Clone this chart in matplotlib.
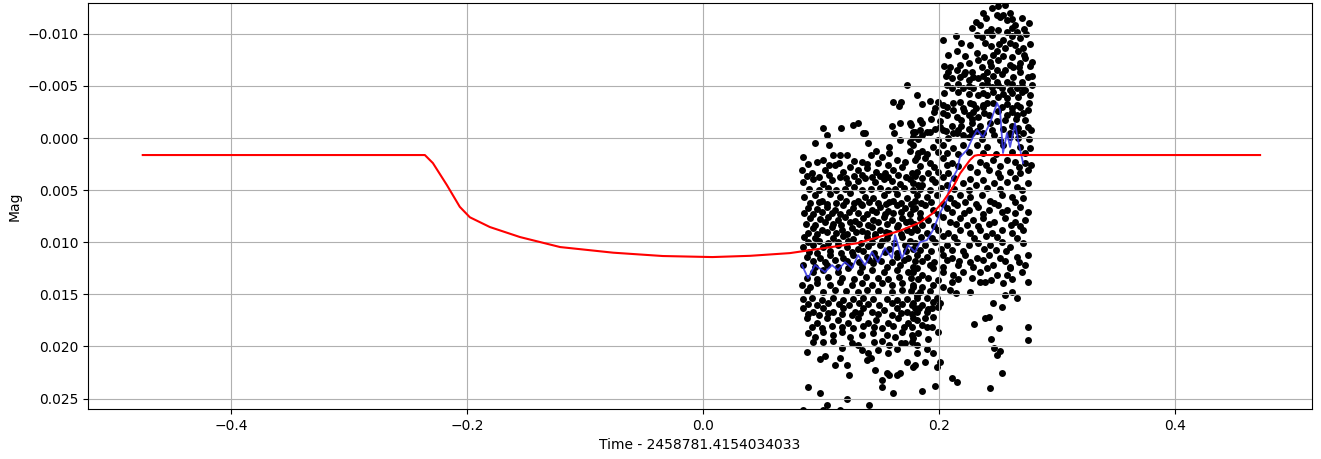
import matplotlib
matplotlib.use("Agg")
import matplotlib.pyplot as plt

# ---- photometry points (time offset, magnitude) ----
obs_time = [
    0.173, 0.181, 0.161, 0.168, 0.166, 0.102, 0.105, 0.117, 0.127, 0.131, 0.136, 0.160, 0.167, 0.176, 0.162, 0.178,
    0.203, 0.214, 0.219, 0.208, 0.215, 0.232, 0.233, 0.237, 0.245, 0.250,
    0.256, 0.249, 0.254, 0.260, 0.258, 0.231, 0.235, 0.276, 0.264, 0.241,
    0.250, 0.258, 0.266, 0.236, 0.239, 0.254, 0.260, 0.269, 0.256, 0.267,
    0.271, 0.249, 0.273, 0.279, 0.269, 0.243, 0.250, 0.249, 0.256, 0.263,
    0.209, 0.225, 0.228, 0.222, 0.208, 0.215, 0.211, 0.218, 0.225, 0.233,
    0.241, 0.249, 0.258, 0.246, 0.241, 0.269, 0.275, 0.270, 0.211, 0.220,
    0.229, 0.236, 0.245, 0.253, 0.260, 0.266, 0.273, 0.277, 0.233, 0.241,
    0.250, 0.258, 0.267, 0.192, 0.199, 0.197, 0.207, 0.218, 0.226, 0.220,
    0.212, 0.231, 0.237, 0.246, 0.253, 0.262, 0.269, 0.275, 0.207, 0.215,
    0.225, 0.233, 0.242, 0.258, 0.266, 0.273, 0.175, 0.186, 0.201, 0.211,
    0.219, 0.228, 0.235, 0.243, 0.262, 0.267, 0.275, 0.180, 0.190, 0.212,
    0.220, 0.228, 0.237, 0.260, 0.271,
    0.137, 0.095, 0.107, 0.140, 0.147, 0.158, 0.167, 0.175, 0.085,
    0.102, 0.110, 0.116, 0.122, 0.135, 0.142, 0.152, 0.158, 0.164, 0.175, 0.181, 0.084,
    0.092, 0.103, 0.112, 0.119, 0.125, 0.131, 0.139, 0.147, 0.154, 0.161, 0.169, 0.177,
    0.085, 0.093, 0.102, 0.109, 0.116, 0.123, 0.131, 0.137, 0.146, 0.153, 0.160, 0.167, 0.175, 0.182,
    0.086, 0.095, 0.101, 0.108, 0.116, 0.125, 0.131, 0.137, 0.144, 0.153, 0.158, 0.164, 0.173, 0.180,
    0.089, 0.097, 0.105, 0.112, 0.119, 0.127, 0.135, 0.143, 0.150, 0.157, 0.164, 0.171, 0.178,
    0.091, 0.099, 0.106, 0.114, 0.120, 0.129, 0.136, 0.144, 0.153, 0.160, 0.169, 0.175,
    0.093, 0.101, 0.109, 0.118, 0.126, 0.135, 0.143, 0.150, 0.164, 0.173, 0.180,
    0.086, 0.095, 0.110, 0.119, 0.127, 0.139, 0.146, 0.156, 0.169,
    0.085, 0.093, 0.102, 0.114, 0.122, 0.131, 0.140, 0.150, 0.158, 0.171, 0.178,
    0.088, 0.099, 0.108, 0.119, 0.127, 0.139, 0.147, 0.164, 0.174,
    0.085, 0.095, 0.105, 0.114, 0.125, 0.135, 0.144, 0.156, 0.167, 0.178,
    0.178, 0.186, 0.192, 0.203, 0.215, 0.225, 0.247, 0.260,
    0.178, 0.186, 0.195, 0.203, 0.212, 0.220, 0.232, 0.241, 0.254, 0.269, 0.277,
    0.180, 0.188, 0.192, 0.203, 0.211, 0.235, 0.246, 0.258, 0.264, 0.273,
    0.181, 0.191, 0.199, 0.208, 0.232, 0.242, 0.250, 0.260, 0.269, 0.275,
    0.178, 0.186, 0.197, 0.207, 0.220, 0.231, 0.237, 0.247, 0.258, 0.266, 0.275,
    0.181, 0.190, 0.198, 0.209, 0.218, 0.226, 0.236, 0.243, 0.253, 0.262, 0.271,
    0.180, 0.188, 0.195, 0.207, 0.215, 0.225, 0.233, 0.242, 0.250, 0.258, 0.269, 0.275,
    0.184, 0.191, 0.203, 0.209, 0.218, 0.229, 0.237, 0.247, 0.256, 0.264, 0.273,
    0.181, 0.190, 0.199, 0.208, 0.218, 0.226, 0.235, 0.245, 0.253, 0.262, 0.271,
    0.180, 0.188, 0.197, 0.207, 0.215, 0.225, 0.233, 0.243, 0.253, 0.260, 0.271,
    0.181, 0.190, 0.203, 0.211, 0.222, 0.232, 0.242, 0.252, 0.266, 0.275,
    0.192, 0.203, 0.216, 0.229, 0.246, 0.260, 0.273,
    0.093, 0.102, 0.114, 0.123, 0.133, 0.143, 0.153, 0.164, 0.174, 0.181,
    0.084, 0.091, 0.097, 0.108, 0.116, 0.126, 0.135, 0.143, 0.152, 0.160, 0.169, 0.178,
    0.085, 0.092, 0.101, 0.110, 0.119, 0.127, 0.136, 0.144, 0.156, 0.164, 0.173, 0.181,
    0.085, 0.093, 0.102, 0.110, 0.119, 0.129, 0.136, 0.143, 0.153, 0.164, 0.173, 0.180,
    0.088, 0.097, 0.105, 0.114, 0.123, 0.131, 0.140, 0.147, 0.157, 0.165, 0.174, 0.181,
    0.089, 0.095, 0.102, 0.110, 0.118, 0.125, 0.135, 0.144, 0.156, 0.163, 0.169, 0.177,
    0.102, 0.118, 0.131, 0.135, 0.140, 0.148, 0.158, 0.164, 0.171,
    0.088, 0.099, 0.103, 0.112, 0.116, 0.139, 0.142, 0.157, 0.173, 0.180, 0.122, 0.124,
    0.146, 0.156, 0.158, 0.164, 0.167, 0.152, 0.152, 0.089, 0.099, 0.122, 0.105, 0.141, 0.161, 0.085,
    0.102, 0.116,
    0.178, 0.186, 0.195, 0.203, 0.212, 0.220, 0.235, 0.241, 0.249, 0.258, 0.260, 0.270, 0.275,
    0.211, 0.203, 0.209, 0.235, 0.239, 0.254, 0.178, 0.186, 0.195,
    0.181, 0.190, 0.198, 0.201, 0.262, 0.256, 0.266, 0.246, 0.253,
    0.178, 0.186, 0.195, 0.181, 0.190, 0.194, 0.178, 0.188, 0.195, 0.242, 0.239,
    0.177, 0.186, 0.190, 0.194, 0.230, 0.251, 0.275, 0.178, 0.191, 0.244, 0.275,
    0.181, 0.190, 0.247, 0.252, 0.249, 0.195, 0.181, 0.188, 0.201, 0.198, 0.178, 0.253,
    0.211, 0.215, 0.186, 0.197, 0.243,
]

obs_mag = [
    -0.0051, -0.0041, -0.0035, -0.0035, -0.0031, -0.0010, -0.0003, -0.0010, -0.0013, -0.0014, -0.0005, -0.0012, -0.0014, -0.0013, -0.0005, -0.0001,
    -0.0094, -0.0098, -0.0091, -0.0080, -0.0084, -0.0082, -0.0075, -0.0120, -0.0125, -0.0127,
    -0.0128, -0.0118, -0.0118, -0.0120, -0.0113, -0.0111, -0.0108, -0.0110, -0.0108, -0.0102,
    -0.0104, -0.0102, -0.0102, -0.0097, -0.0091, -0.0094, -0.0091, -0.0096, -0.0086, -0.0084,
    -0.0086, -0.0084, -0.0077, -0.0073, -0.0072, -0.0073, -0.0075, -0.0065, -0.0065, -0.0068,
    -0.0068, -0.0072, -0.0063, -0.0063, -0.0063, -0.0065, -0.0058, -0.0059, -0.0056, -0.0058,
    -0.0056, -0.0054, -0.0054, -0.0060, -0.0063, -0.0063, -0.0059, -0.0054, -0.0048, -0.0048,
    -0.0048, -0.0051, -0.0049, -0.0048, -0.0046, -0.0048, -0.0046, -0.0041, -0.0041, -0.0041,
    -0.0039, -0.0038, -0.0039, -0.0036, -0.0035, -0.0029, -0.0030, -0.0035, -0.0034, -0.0029,
    -0.0027, -0.0029, -0.0030, -0.0034, -0.0030, -0.0029, -0.0030, -0.0027, -0.0022, -0.0020,
    -0.0022, -0.0020, -0.0022, -0.0022, -0.0022, -0.0017, -0.0014, -0.0014, -0.0011, -0.0012,
    -0.0012, -0.0014, -0.0012, -0.0014, -0.0012, -0.0010, -0.0011, -0.0006, -0.0006, -0.0005,
    -0.0003, -0.0005, -0.0005, -0.0005, -0.0005,
    -0.0005, 0.0005, 0.0007, 0.0005, 0.0012, 0.0009, 0.0002, 0.0004, 0.0018,
    0.0021, 0.0016, 0.0016, 0.0016, 0.0023, 0.0016, 0.0018, 0.0014, 0.0021, 0.0012, 0.0018, 0.0031,
    0.0034, 0.0031, 0.0026, 0.0033, 0.0028, 0.0031, 0.0029, 0.0033, 0.0034, 0.0031, 0.0028, 0.0034,
    0.0042, 0.0039, 0.0044, 0.0040, 0.0037, 0.0043, 0.0041, 0.0038, 0.0042, 0.0039, 0.0041, 0.0044, 0.0039, 0.0045,
    0.0057, 0.0055, 0.0060, 0.0054, 0.0057, 0.0053, 0.0060, 0.0057, 0.0058, 0.0055, 0.0061, 0.0054, 0.0058, 0.0060,
    0.0067, 0.0068, 0.0066, 0.0069, 0.0064, 0.0067, 0.0064, 0.0069, 0.0066, 0.0070, 0.0064, 0.0067, 0.0068,
    0.0077, 0.0078, 0.0076, 0.0079, 0.0076, 0.0080, 0.0077, 0.0079, 0.0076, 0.0079, 0.0077, 0.0080,
    0.0086, 0.0088, 0.0085, 0.0088, 0.0086, 0.0089, 0.0085, 0.0088, 0.0085, 0.0088, 0.0086,
    0.0095, 0.0096, 0.0096, 0.0094, 0.0097, 0.0095, 0.0094, 0.0096, 0.0095,
    0.0105, 0.0103, 0.0105, 0.0103, 0.0105, 0.0106, 0.0104, 0.0103, 0.0106, 0.0103, 0.0106,
    0.0114, 0.0115, 0.0112, 0.0115, 0.0112, 0.0114, 0.0115, 0.0114, 0.0115,
    0.0122, 0.0124, 0.0122, 0.0124, 0.0122, 0.0124, 0.0120, 0.0124, 0.0122, 0.0124,
    -0.0006, -0.0003, -0.0006, -0.0008, -0.0005, -0.0001, -0.0003, -0.0001,
    0.0007, 0.0012, 0.0009, 0.0007, 0.0010, 0.0007, 0.0007, 0.0009, 0.0007, 0.0009, 0.0010,
    0.0021, 0.0019, 0.0024, 0.0019, 0.0024, 0.0023, 0.0021, 0.0021, 0.0023, 0.0024,
    0.0033, 0.0034, 0.0033, 0.0034, 0.0033, 0.0031, 0.0034, 0.0033, 0.0034, 0.0031,
    0.0043, 0.0045, 0.0042, 0.0045, 0.0043, 0.0045, 0.0040, 0.0043, 0.0042, 0.0047, 0.0043,
    0.0055, 0.0057, 0.0055, 0.0058, 0.0055, 0.0057, 0.0055, 0.0060, 0.0055, 0.0057, 0.0058,
    0.0067, 0.0064, 0.0069, 0.0067, 0.0064, 0.0069, 0.0066, 0.0069, 0.0064, 0.0069, 0.0066, 0.0071,
    0.0077, 0.0079, 0.0076, 0.0081, 0.0077, 0.0079, 0.0077, 0.0081, 0.0077, 0.0081, 0.0079,
    0.0088, 0.0091, 0.0088, 0.0091, 0.0088, 0.0091, 0.0088, 0.0091, 0.0088, 0.0091, 0.0088,
    0.0101, 0.0103, 0.0100, 0.0103, 0.0100, 0.0103, 0.0101, 0.0103, 0.0100, 0.0105, 0.0101,
    0.0112, 0.0114, 0.0112, 0.0115, 0.0112, 0.0115, 0.0112, 0.0115, 0.0114, 0.0112,
    0.0122, 0.0124, 0.0122, 0.0124, 0.0122, 0.0124, 0.0122,
    0.0129, 0.0127, 0.0129, 0.0125, 0.0129, 0.0127, 0.0129, 0.0127, 0.0129, 0.0125,
    0.0141, 0.0143, 0.0139, 0.0141, 0.0138, 0.0141, 0.0139, 0.0141, 0.0139, 0.0141, 0.0139, 0.0143,
    0.0154, 0.0153, 0.0155, 0.0153, 0.0155, 0.0154, 0.0153, 0.0154, 0.0154, 0.0155, 0.0154, 0.0153,
    0.0163, 0.0167, 0.0163, 0.0167, 0.0163, 0.0167, 0.0163, 0.0167, 0.0165, 0.0163, 0.0167, 0.0163,
    0.0173, 0.0177, 0.0173, 0.0175, 0.0177, 0.0173, 0.0177, 0.0175, 0.0177, 0.0173, 0.0177, 0.0175,
    0.0187, 0.0191, 0.0186, 0.0189, 0.0186, 0.0191, 0.0189, 0.0187, 0.0189, 0.0191, 0.0186, 0.0189,
    0.0196, 0.0201, 0.0199, 0.0203, 0.0206, 0.0203, 0.0199, 0.0202, 0.0197,
    0.0205, 0.0212, 0.0209, 0.0218, 0.0211, 0.0213, 0.0211, 0.0206, 0.0215, 0.0218, 0.0218, 0.0227,
    0.0223, 0.0225, 0.0227, 0.0227, 0.0225, 0.0232, 0.0239, 0.0239, 0.0245, 0.0250, 0.0256, 0.0256, 0.0245, 0.0261,
    0.0261, 0.0261,
    0.0129, 0.0131, 0.0125, 0.0129, 0.0131, 0.0129, 0.0129, 0.0125, 0.0131, 0.0131, 0.0125, 0.0129, 0.0138,
    0.0138, 0.0143, 0.0146, 0.0138, 0.0138, 0.0139, 0.0141, 0.0143, 0.0141,
    0.0151, 0.0153, 0.0153, 0.0158, 0.0148, 0.0151, 0.0153, 0.0158, 0.0162,
    0.0158, 0.0160, 0.0157, 0.0167, 0.0167, 0.0163, 0.0173, 0.0173, 0.0172, 0.0172, 0.0173,
    0.0181, 0.0179, 0.0181, 0.0181, 0.0178, 0.0182, 0.0181, 0.0192, 0.0193, 0.0193, 0.0194,
    0.0199, 0.0202, 0.0201, 0.0204, 0.0208, 0.0206, 0.0206, 0.0215, 0.0215, 0.0220, 0.0220, 0.0225,
    0.0230, 0.0234, 0.0243, 0.0238, 0.0240,
]

# ---- further photometry points in the densest parts of the cloud ----
dense_time = [
    0.089, 0.097, 0.107, 0.115, 0.128, 0.139, 0.148, 0.157, 0.171,
    0.088, 0.098, 0.107, 0.121, 0.128, 0.135, 0.143, 0.150, 0.157, 0.165, 0.172, 0.180,
    0.090, 0.098, 0.106, 0.113, 0.120, 0.128, 0.135, 0.142, 0.150, 0.157, 0.163, 0.170, 0.178,
    0.091, 0.098, 0.105, 0.113, 0.121, 0.128, 0.134, 0.141, 0.148, 0.155, 0.161, 0.168, 0.176,
    0.086, 0.093, 0.101, 0.109, 0.116, 0.124, 0.131, 0.139, 0.147, 0.154, 0.161, 0.168, 0.175,
    0.087, 0.095, 0.103, 0.110, 0.117, 0.125, 0.132, 0.140, 0.148, 0.156, 0.165, 0.172, 0.179,
    0.089, 0.097, 0.105, 0.113, 0.122, 0.130, 0.139, 0.146, 0.155, 0.158, 0.168, 0.176,
    0.089, 0.098, 0.106, 0.114, 0.123, 0.134, 0.143, 0.152, 0.162, 0.175,
    0.090, 0.097, 0.108, 0.117, 0.126, 0.136, 0.145, 0.154, 0.164, 0.172,
    0.093, 0.103, 0.112, 0.122, 0.132, 0.141, 0.151, 0.160, 0.170, 0.180,
    0.088, 0.097, 0.106, 0.118, 0.128, 0.138, 0.148, 0.157, 0.166, 0.176,
    0.088, 0.102, 0.112, 0.121, 0.131, 0.139, 0.148, 0.160, 0.169, 0.176,
    0.089, 0.097, 0.106, 0.115, 0.124, 0.132, 0.140, 0.149, 0.160, 0.169, 0.177,
    0.089, 0.098, 0.106, 0.118, 0.126, 0.133, 0.148, 0.160, 0.168, 0.177,
    0.092, 0.101, 0.109, 0.118, 0.127, 0.136, 0.145, 0.152, 0.161, 0.170,
    0.093, 0.110, 0.126, 0.145, 0.152, 0.168, 0.177,
    0.240, 0.252, 0.262, 0.270,
    0.228, 0.244, 0.262, 0.272,
    0.232, 0.245, 0.262, 0.274,
    0.226, 0.244, 0.251, 0.264, 0.277,
    0.222, 0.238, 0.246, 0.254, 0.262, 0.272,
    0.204, 0.218, 0.236, 0.244, 0.260, 0.268, 0.277,
    0.206, 0.221, 0.229, 0.237, 0.253, 0.263, 0.279,
    0.207, 0.216, 0.225, 0.241, 0.250, 0.262, 0.270, 0.279,
    0.204, 0.216, 0.225, 0.237, 0.246, 0.254, 0.262, 0.270,
    0.186, 0.203, 0.212, 0.229, 0.237, 0.241, 0.258, 0.266, 0.276,
    0.196, 0.203, 0.221, 0.229, 0.238, 0.250, 0.262, 0.271,
    0.184, 0.193, 0.201, 0.219, 0.228, 0.249, 0.256, 0.265,
    0.184, 0.197, 0.206, 0.216, 0.225, 0.232, 0.245, 0.254, 0.266, 0.278,
    0.182, 0.199, 0.208, 0.236, 0.252, 0.267, 0.276,
    0.182, 0.190, 0.199, 0.207, 0.216, 0.225, 0.237, 0.248, 0.262, 0.273,
    0.184, 0.196, 0.207, 0.216, 0.226, 0.240, 0.252, 0.268, 0.278,
    0.186, 0.194, 0.203, 0.213, 0.226, 0.252, 0.264,
    0.184, 0.192, 0.202, 0.213, 0.225, 0.241, 0.252, 0.270,
    0.185, 0.193, 0.203, 0.213, 0.222, 0.231, 0.247, 0.264,
    0.184, 0.199, 0.211, 0.221, 0.237, 0.253, 0.264,
    0.186, 0.196, 0.214, 0.224, 0.233, 0.242, 0.261, 0.269,
    0.185, 0.194, 0.203, 0.213, 0.230, 0.240, 0.249, 0.266,
    0.184, 0.193, 0.202, 0.211, 0.220, 0.238, 0.248, 0.257,
    0.186, 0.196, 0.207, 0.217, 0.226, 0.237, 0.256, 0.268,
    0.182, 0.191, 0.199, 0.216, 0.228, 0.244, 0.262,
    0.184, 0.192, 0.214, 0.226,
    0.183, 0.191, 0.199,
    0.182, 0.199,
]

dense_mag = [
    0.0025, 0.0023, 0.0026, 0.0024, 0.0022, 0.0025, 0.0024, 0.0026, 0.0023,
    0.0036, 0.0037, 0.0035, 0.0038, 0.0036, 0.0035, 0.0037, 0.0036, 0.0037, 0.0035, 0.0037, 0.0036,
    0.0049, 0.0050, 0.0048, 0.0050, 0.0049, 0.0047, 0.0050, 0.0049, 0.0048, 0.0050, 0.0049, 0.0048, 0.0050,
    0.0062, 0.0061, 0.0063, 0.0062, 0.0060, 0.0062, 0.0063, 0.0061, 0.0062, 0.0063, 0.0060, 0.0062, 0.0063,
    0.0072, 0.0073, 0.0071, 0.0072, 0.0073, 0.0071, 0.0072, 0.0073, 0.0071, 0.0073, 0.0072, 0.0071, 0.0073,
    0.0082, 0.0083, 0.0081, 0.0082, 0.0083, 0.0081, 0.0082, 0.0083, 0.0081, 0.0082, 0.0083, 0.0081, 0.0082,
    0.0091, 0.0092, 0.0090, 0.0091, 0.0092, 0.0090, 0.0091, 0.0092, 0.0090, 0.0091, 0.0092, 0.0090,
    0.0100, 0.0099, 0.0101, 0.0100, 0.0099, 0.0101, 0.0100, 0.0099, 0.0101, 0.0099,
    0.0109, 0.0110, 0.0108, 0.0110, 0.0109, 0.0108, 0.0110, 0.0109, 0.0110, 0.0108,
    0.0118, 0.0119, 0.0117, 0.0118, 0.0119, 0.0117, 0.0118, 0.0119, 0.0117, 0.0118,
    0.0134, 0.0135, 0.0133, 0.0134, 0.0135, 0.0133, 0.0134, 0.0135, 0.0133, 0.0134,
    0.0147, 0.0148, 0.0146, 0.0147, 0.0148, 0.0146, 0.0147, 0.0148, 0.0146, 0.0147,
    0.0159, 0.0160, 0.0158, 0.0159, 0.0160, 0.0158, 0.0159, 0.0160, 0.0158, 0.0159, 0.0160,
    0.0169, 0.0170, 0.0168, 0.0169, 0.0170, 0.0168, 0.0169, 0.0170, 0.0168, 0.0169,
    0.0181, 0.0182, 0.0180, 0.0181, 0.0182, 0.0180, 0.0181, 0.0182, 0.0180, 0.0181,
    0.0196, 0.0195, 0.0197, 0.0196, 0.0195, 0.0197, 0.0196,
    -0.0115, -0.0116, -0.0114, -0.0115,
    -0.0106, -0.0105, -0.0106, -0.0105,
    -0.0099, -0.0099, -0.0098, -0.0100,
    -0.0089, -0.0088, -0.0090, -0.0089, -0.0090,
    -0.0079, -0.0078, -0.0080, -0.0079, -0.0078, -0.0080,
    -0.0069, -0.0070, -0.0068, -0.0069, -0.0070, -0.0068, -0.0069,
    -0.0060, -0.0061, -0.0059, -0.0060, -0.0061, -0.0059, -0.0060,
    -0.0051, -0.0052, -0.0050, -0.0052, -0.0051, -0.0052, -0.0050, -0.0051,
    -0.0043, -0.0044, -0.0042, -0.0043, -0.0044, -0.0042, -0.0043, -0.0044,
    -0.0033, -0.0032, -0.0034, -0.0033, -0.0032, -0.0034, -0.0033, -0.0032, -0.0034,
    -0.0025, -0.0024, -0.0026, -0.0025, -0.0024, -0.0026, -0.0025, -0.0024,
    -0.0017, -0.0018, -0.0016, -0.0017, -0.0018, -0.0016, -0.0017, -0.0018,
    -0.0008, -0.0009, -0.0007, -0.0008, -0.0009, -0.0007, -0.0008, -0.0009, -0.0007, -0.0008,
    0.0001, 0.0002, 0.0000, 0.0001, 0.0002, 0.0000, 0.0001,
    0.0014, 0.0015, 0.0013, 0.0014, 0.0015, 0.0013, 0.0014, 0.0015, 0.0013, 0.0014,
    0.0027, 0.0028, 0.0026, 0.0027, 0.0028, 0.0026, 0.0027, 0.0028, 0.0026,
    0.0038, 0.0039, 0.0037, 0.0038, 0.0039, 0.0037, 0.0038,
    0.0049, 0.0050, 0.0048, 0.0049, 0.0050, 0.0048, 0.0049, 0.0050,
    0.0062, 0.0061, 0.0063, 0.0062, 0.0061, 0.0063, 0.0062, 0.0061,
    0.0072, 0.0073, 0.0071, 0.0072, 0.0073, 0.0071, 0.0072,
    0.0083, 0.0084, 0.0082, 0.0083, 0.0084, 0.0082, 0.0083, 0.0084,
    0.0095, 0.0096, 0.0094, 0.0095, 0.0096, 0.0094, 0.0095, 0.0096,
    0.0107, 0.0108, 0.0106, 0.0107, 0.0108, 0.0106, 0.0107, 0.0108,
    0.0118, 0.0119, 0.0117, 0.0118, 0.0119, 0.0117, 0.0118, 0.0119,
    0.0135, 0.0134, 0.0136, 0.0135, 0.0134, 0.0136, 0.0135,
    0.0148, 0.0147, 0.0149, 0.0148,
    0.0163, 0.0164, 0.0162,
    0.0187, 0.0186,
]

# ---- binned light curve (blue) ----
bin_time = [0.0839, 0.0890, 0.0949, 0.1034, 0.1093, 0.1144, 0.1203, 0.1263, 0.1314, 0.1373,
            0.1432, 0.1483, 0.1542, 0.1602, 0.1627, 0.1686, 0.1737, 0.1797, 0.1839, 0.1898,
            0.1949, 0.2008, 0.2068, 0.2093, 0.2153, 0.2178, 0.2237, 0.2288, 0.2322, 0.2373,
            0.2432, 0.2492, 0.2517, 0.2542, 0.2576, 0.2602, 0.2644, 0.2669, 0.2712]
bin_mag = [0.01219, 0.01344, 0.01219, 0.01286, 0.01219, 0.01267, 0.0119, 0.01248, 0.01123, 0.01219,
           0.01094, 0.0119, 0.01056, 0.01152, 0.00931, 0.01152, 0.01027, 0.01094, 0.00998, 0.00979,
           0.00883, 0.0072, 0.00595, 0.00432, 0.00307, 0.00182, 0.00115, -0.0001, -0.00077, -0.0001,
           -0.00144, -0.00336, -0.00269, 0.00144, -0.00048, 0.00086, -0.00144, 0.00019, 0.0024]

# ---- transit model (red) ----
model_time = [-0.4746, -0.2356, -0.2288, -0.217, -0.206, -0.1975, -0.1805, -0.155, -0.121, -0.076,
              -0.034, 0.008, 0.040, 0.0737, 0.1305, 0.1669, 0.1839, 0.1949, 0.2034, 0.2119,
              0.2178, 0.2263, 0.2300, 0.2330, 0.4720]
model_mag = [0.00163, 0.00163, 0.0024, 0.0045, 0.0066, 0.0076, 0.00854, 0.0095, 0.01046, 0.0110,
             0.01132, 0.01142, 0.0113, 0.01104, 0.0101, 0.0089, 0.0081, 0.0072, 0.0061, 0.0047,
             0.0034, 0.0021, 0.0017, 0.00163, 0.00163]

fig = plt.figure(figsize=(13.21, 4.59), dpi=100)
ax = fig.add_axes([0.0666, 0.1089, 0.9266, 0.8846])
ax.scatter(obs_time + dense_time, obs_mag + dense_mag, s=25, c='black', linewidths=0, zorder=1)
ax.plot(bin_time, bin_mag, color=(0.2, 0.2, 0.9), lw=1.3, alpha=0.85, zorder=3)
ax.plot(model_time, model_mag, color='red', lw=1.5, zorder=4)
ax.set_xlim(-0.521, 0.516)
ax.set_ylim(0.0260, -0.01296)
ax.grid(True)
ax.set_xlabel('Time - 2458781.4154034033')
ax.set_ylabel('Mag')
fig.savefig('out.png', dpi=100)
